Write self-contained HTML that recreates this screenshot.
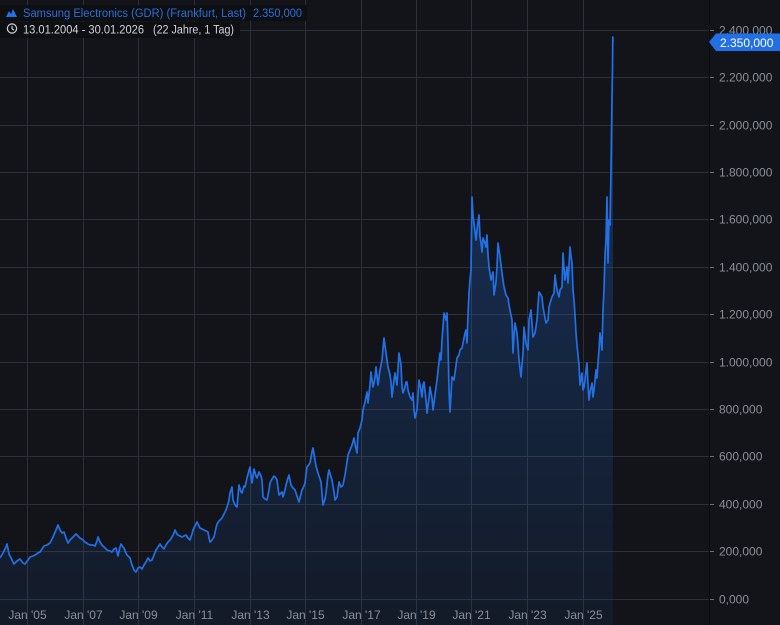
<!DOCTYPE html>
<html><head><meta charset="utf-8"><style>
html,body{margin:0;padding:0;background:#121419;}
svg{display:block;}
text{font-family:"Liberation Sans",sans-serif;}
</style></head><body>
<svg width="780" height="625" viewBox="0 0 780 625" xmlns="http://www.w3.org/2000/svg">
<defs>
<linearGradient id="fg" gradientUnits="userSpaceOnUse" x1="0" y1="37" x2="0" y2="625">
<stop offset="0" stop-color="#2270e6" stop-opacity="0.34"/>
<stop offset="1" stop-color="#2270e6" stop-opacity="0.07"/>
</linearGradient>
</defs>
<rect width="780" height="625" fill="#121419"/>
<g stroke="#2c2f37" stroke-width="1">
<line x1="0" y1="30.5" x2="709" y2="30.5"/>
<line x1="0" y1="77.5" x2="709" y2="77.5"/>
<line x1="0" y1="125.5" x2="709" y2="125.5"/>
<line x1="0" y1="172.5" x2="709" y2="172.5"/>
<line x1="0" y1="219.5" x2="709" y2="219.5"/>
<line x1="0" y1="267.5" x2="709" y2="267.5"/>
<line x1="0" y1="314.5" x2="709" y2="314.5"/>
<line x1="0" y1="362.5" x2="709" y2="362.5"/>
<line x1="0" y1="409.5" x2="709" y2="409.5"/>
<line x1="0" y1="456.5" x2="709" y2="456.5"/>
<line x1="0" y1="504.5" x2="709" y2="504.5"/>
<line x1="0" y1="551.5" x2="709" y2="551.5"/>
<line x1="0" y1="599.5" x2="709" y2="599.5"/>
<line x1="27.5" y1="0" x2="27.5" y2="625"/>
<line x1="83.5" y1="0" x2="83.5" y2="625"/>
<line x1="138.5" y1="0" x2="138.5" y2="625"/>
<line x1="194.5" y1="0" x2="194.5" y2="625"/>
<line x1="250.5" y1="0" x2="250.5" y2="625"/>
<line x1="305.5" y1="0" x2="305.5" y2="625"/>
<line x1="361.5" y1="0" x2="361.5" y2="625"/>
<line x1="416.5" y1="0" x2="416.5" y2="625"/>
<line x1="471.5" y1="0" x2="471.5" y2="625"/>
<line x1="527.5" y1="0" x2="527.5" y2="625"/>
<line x1="583.5" y1="0" x2="583.5" y2="625"/>
</g>
<g stroke="#6c6f78" stroke-width="1">
<line x1="710" y1="30.5" x2="714" y2="30.5"/>
<line x1="710" y1="77.5" x2="714" y2="77.5"/>
<line x1="710" y1="125.5" x2="714" y2="125.5"/>
<line x1="710" y1="172.5" x2="714" y2="172.5"/>
<line x1="710" y1="219.5" x2="714" y2="219.5"/>
<line x1="710" y1="267.5" x2="714" y2="267.5"/>
<line x1="710" y1="314.5" x2="714" y2="314.5"/>
<line x1="710" y1="362.5" x2="714" y2="362.5"/>
<line x1="710" y1="409.5" x2="714" y2="409.5"/>
<line x1="710" y1="456.5" x2="714" y2="456.5"/>
<line x1="710" y1="504.5" x2="714" y2="504.5"/>
<line x1="710" y1="551.5" x2="714" y2="551.5"/>
<line x1="710" y1="599.5" x2="714" y2="599.5"/>
</g>
<line x1="709.5" y1="0" x2="709.5" y2="625" stroke="#0a0b0e" stroke-width="1"/>

<polygon fill="url(#fg)" points="0,625 0,558 3,553 6,547 7,544 9,554 12,560 14,564 17,561 20,559 23,563 25,564 28,560 30,557 33,556 35,555 38,553 40,552 42,549 44,546 47,545 50,543 52,539 53,537 56,530 58,525 60,530 62,533 64,532 66,538 68,543 70,540 72,538 74,536 76,534 78,536 80,538 83,540 85,542 88,544 90,545 93,545 95,546 97,541 98,537 100,542 102,545 105,548 107,550 110,551 112,552 114,549 116,548 118,556 120,547 121,544 123,547 124,548 126,553 127,555 129,557 130,558 132,565 134,570 136,572 138,568 140,567 142,569 144,565 146,562 148,558 150,561 152,560 154,555 156,550 158,547 160,544 162,547 164,549 166,545 168,542 170,540 172,537 174,533 175,530 177,534 178,535 180,536 182,537 184,536 186,535 188,538 190,540 192,534 193,530 195,526 197,522 199,526 200,528 202,529 204,530 206,531 208,532 209,538 210,542 212,540 214,537 216,528 217,524 219,521 222,518 224,514 226,510 228,504 229,500 230,493 232,487 233,500 235,505 237,507 239,485 241,492 242,493 244,486 245,487 247,478 250,467 252,483 254,469 256,476 257,478 259,472 261,476 262,480 263,497 265,499 267,500 269,490 270,483 272,479 274,476 276,478 277,480 279,495 281,493 282,492 283,497 285,490 286,485 288,478 289,475 291,485 293,488 295,490 297,496 299,502 301,494 302,490 304,486 305,483 307,467 310,463 312,452 313,448 315,460 316,466 318,473 320,479 321,482 323,505 325,499 326,493 328,475 329,470 331,477 332,480 334,492 335,500 337,497 339,482 341,487 343,485 345,475 347,462 348,455 350,450 352,445 354,438 355,444 357,453 358,433 360,428 362,420 363,410 365,402 367,392 368,403 370,385 371,372 373,387 375,378 376,367 378,385 380,370 382,360 384,338 386,353 388,367 390,375 391,382 392,397 394,380 395,373 397,385 399,353 401,365 402,387 403,393 405,387 406,382 407,382 408,390 410,397 412,400 413,393 414,410 415,418 417,410 418,395 419,380 421,390 422,397 423,385 424,382 426,400 427,413 429,398 430,387 432,398 433,410 435,395 437,380 439,362 440,353 441,360 442,340 444,313 446,320 447,313 448,343 449,390 450,412 452,377 454,380 455,373 457,358 459,355 460,350 462,348 463,343 465,333 466,330 467,343 468,315 469,293 470,280 471,270 472,197 473,215 474,223 476,240 477,230 478,222 479,215 480,237 481,243 482,252 483,238 485,243 486,247 487,235 488,255 489,267 491,280 493,272 494,295 496,282 497,267 498,243 500,257 502,273 504,287 506,295 508,298 509,305 510,310 512,320 513,353 514,335 515,323 517,333 518,345 519,360 521,377 522,365 523,353 524,327 526,343 528,350 529,320 531,310 533,337 535,333 537,320 538,305 539,292 541,295 542,297 543,307 545,318 546,323 548,320 549,307 551,300 552,297 554,293 555,275 556,283 557,290 559,297 560,290 562,287 563,253 564,268 565,280 567,267 568,283 570,247 571,256 572,263 573,290 574,300 575,315 576,333 577,345 578,355 579,365 580,385 581,378 582,373 583,390 584,387 585,380 586,370 587,363 588,385 589,400 590,392 592,383 593,397 594,390 596,370 597,378 598,363 599,350 600,333 601,340 602,350 603,310 604,290 605,255 606,240 607,197 607.5,237 608,263 609,220 610,225 611,170 612,97 612.5,70 612.8,37 613,42 613,625"/>

<polyline fill="none" stroke="#2270e6" stroke-width="1.7" stroke-linejoin="round" points="0,558 3,553 6,547 7,544 9,554 12,560 14,564 17,561 20,559 23,563 25,564 28,560 30,557 33,556 35,555 38,553 40,552 42,549 44,546 47,545 50,543 52,539 53,537 56,530 58,525 60,530 62,533 64,532 66,538 68,543 70,540 72,538 74,536 76,534 78,536 80,538 83,540 85,542 88,544 90,545 93,545 95,546 97,541 98,537 100,542 102,545 105,548 107,550 110,551 112,552 114,549 116,548 118,556 120,547 121,544 123,547 124,548 126,553 127,555 129,557 130,558 132,565 134,570 136,572 138,568 140,567 142,569 144,565 146,562 148,558 150,561 152,560 154,555 156,550 158,547 160,544 162,547 164,549 166,545 168,542 170,540 172,537 174,533 175,530 177,534 178,535 180,536 182,537 184,536 186,535 188,538 190,540 192,534 193,530 195,526 197,522 199,526 200,528 202,529 204,530 206,531 208,532 209,538 210,542 212,540 214,537 216,528 217,524 219,521 222,518 224,514 226,510 228,504 229,500 230,493 232,487 233,500 235,505 237,507 239,485 241,492 242,493 244,486 245,487 247,478 250,467 252,483 254,469 256,476 257,478 259,472 261,476 262,480 263,497 265,499 267,500 269,490 270,483 272,479 274,476 276,478 277,480 279,495 281,493 282,492 283,497 285,490 286,485 288,478 289,475 291,485 293,488 295,490 297,496 299,502 301,494 302,490 304,486 305,483 307,467 310,463 312,452 313,448 315,460 316,466 318,473 320,479 321,482 323,505 325,499 326,493 328,475 329,470 331,477 332,480 334,492 335,500 337,497 339,482 341,487 343,485 345,475 347,462 348,455 350,450 352,445 354,438 355,444 357,453 358,433 360,428 362,420 363,410 365,402 367,392 368,403 370,385 371,372 373,387 375,378 376,367 378,385 380,370 382,360 384,338 386,353 388,367 390,375 391,382 392,397 394,380 395,373 397,385 399,353 401,365 402,387 403,393 405,387 406,382 407,382 408,390 410,397 412,400 413,393 414,410 415,418 417,410 418,395 419,380 421,390 422,397 423,385 424,382 426,400 427,413 429,398 430,387 432,398 433,410 435,395 437,380 439,362 440,353 441,360 442,340 444,313 446,320 447,313 448,343 449,390 450,412 452,377 454,380 455,373 457,358 459,355 460,350 462,348 463,343 465,333 466,330 467,343 468,315 469,293 470,280 471,270 472,197 473,215 474,223 476,240 477,230 478,222 479,215 480,237 481,243 482,252 483,238 485,243 486,247 487,235 488,255 489,267 491,280 493,272 494,295 496,282 497,267 498,243 500,257 502,273 504,287 506,295 508,298 509,305 510,310 512,320 513,353 514,335 515,323 517,333 518,345 519,360 521,377 522,365 523,353 524,327 526,343 528,350 529,320 531,310 533,337 535,333 537,320 538,305 539,292 541,295 542,297 543,307 545,318 546,323 548,320 549,307 551,300 552,297 554,293 555,275 556,283 557,290 559,297 560,290 562,287 563,253 564,268 565,280 567,267 568,283 570,247 571,256 572,263 573,290 574,300 575,315 576,333 577,345 578,355 579,365 580,385 581,378 582,373 583,390 584,387 585,380 586,370 587,363 588,385 589,400 590,392 592,383 593,397 594,390 596,370 597,378 598,363 599,350 600,333 601,340 602,350 603,310 604,290 605,255 606,240 607,197 607.5,237 608,263 609,220 610,225 611,170 612,97 612.5,70 612.8,37 613,42"/>

<g fill="#8b8e97" font-size="12">
<text x="719" y="34.5">2.400,000</text>
<text x="719" y="81.5">2.200,000</text>
<text x="719" y="129.5">2.000,000</text>
<text x="719" y="176.5">1.800,000</text>
<text x="719" y="223.5">1.600,000</text>
<text x="719" y="271.5">1.400,000</text>
<text x="719" y="318.5">1.200,000</text>
<text x="719" y="366.5">1.000,000</text>
<text x="719" y="413.5">800,000</text>
<text x="719" y="460.5">600,000</text>
<text x="719" y="508.5">400,000</text>
<text x="719" y="555.5">200,000</text>
<text x="719" y="603.5">0,000</text>
</g>
<g fill="#8b8e97" font-size="12" text-anchor="middle">
<text x="27.5" y="619">Jan '05</text>
<text x="83.5" y="619">Jan '07</text>
<text x="138.5" y="619">Jan '09</text>
<text x="194.5" y="619">Jan '11</text>
<text x="250.5" y="619">Jan '13</text>
<text x="305.5" y="619">Jan '15</text>
<text x="361.5" y="619">Jan '17</text>
<text x="416.5" y="619">Jan '19</text>
<text x="471.5" y="619">Jan '21</text>
<text x="527.5" y="619">Jan '23</text>
<text x="583.5" y="619">Jan '25</text>
</g>

<polygon points="709,42 716,33.5 780,33.5 780,51 716,51" fill="#2270e6"/>
<text x="720" y="47" fill="#ffffff" font-size="12">2.350,000</text>

<rect x="0" y="5" width="307" height="16" fill="#0d0f13"/>
<rect x="0" y="22" width="240" height="16" fill="#0d0f13"/>
<polygon points="6,17 9,11 11,14 13,9 15,13 17,17" fill="#2270e6"/>
<text x="23" y="17" fill="#2a6fd8" font-size="11.5" textLength="223" lengthAdjust="spacingAndGlyphs">Samsung Electronics (GDR) (Frankfurt, Last)</text>
<text x="253" y="17" fill="#2a6fd8" font-size="11.5" textLength="49" lengthAdjust="spacingAndGlyphs">2.350,000</text>
<circle cx="12" cy="28.5" r="4.6" fill="none" stroke="#d1d4dc" stroke-width="1.2"/>
<polyline points="12,25.8 12,28.8 14,30.2" fill="none" stroke="#d1d4dc" stroke-width="1.1"/>
<text x="23" y="33.5" fill="#d1d4dc" font-size="11.5" textLength="121" lengthAdjust="spacingAndGlyphs">13.01.2004 - 30.01.2026</text>
<text x="153" y="33.5" fill="#d1d4dc" font-size="11.5" textLength="81" lengthAdjust="spacingAndGlyphs">(22 Jahre, 1 Tag)</text>
</svg>
</body></html>
